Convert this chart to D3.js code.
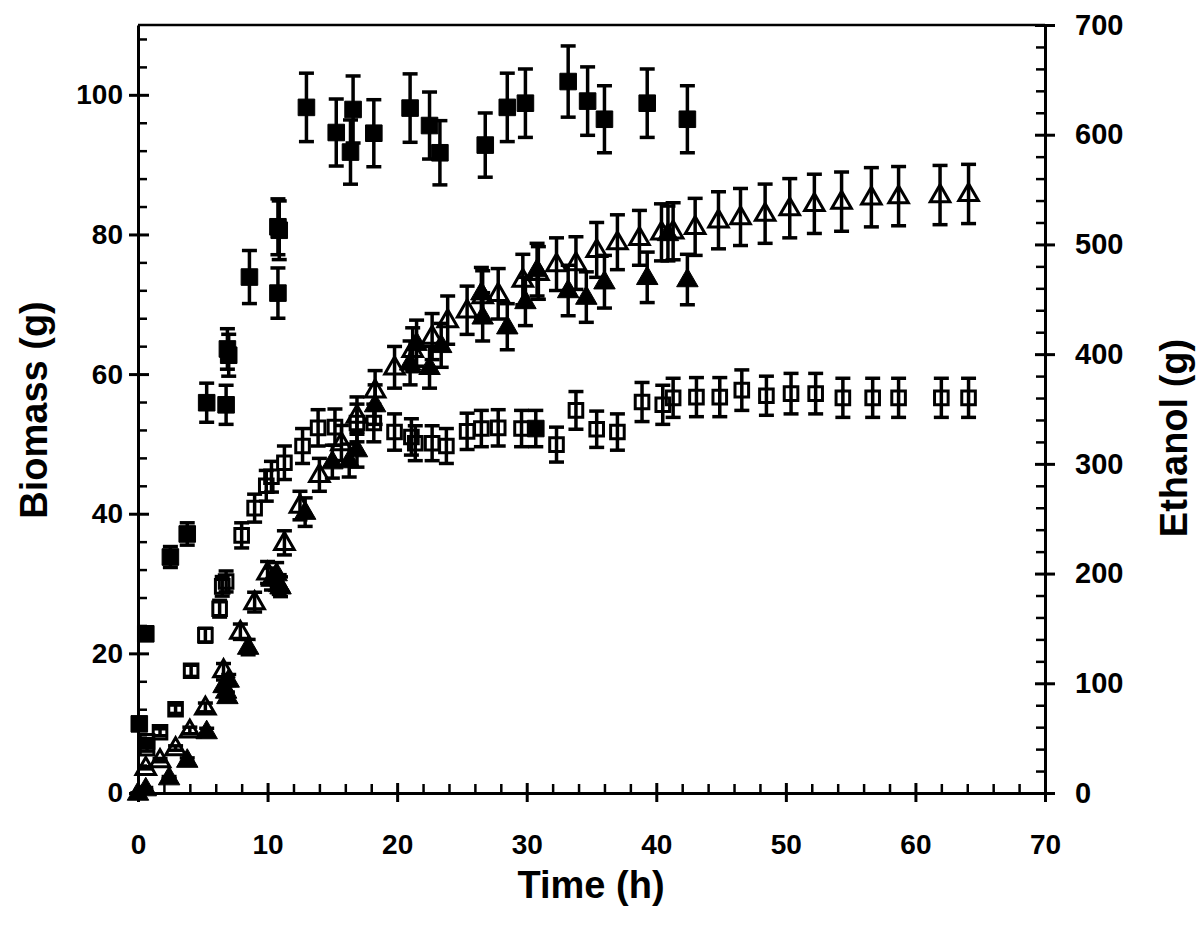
<!DOCTYPE html>
<html>
<head>
<meta charset="utf-8">
<script src="https://cdn.jsdelivr.net/npm/d3@7"></script>
<style>
  html, body { margin: 0; padding: 0; background: #fff; }
  svg { display: block; }
  text { font-family: "Liberation Sans", Arial, sans-serif; font-weight: bold; fill: #000; }
</style>
</head>
<body>
<svg id="chart" width="1200" height="926"></svg>
<script>
// ---------------- data ----------------
const xTicks = [0, 10, 20, 30, 40, 50, 60, 70];
const leftTicks = [0, 20, 40, 60, 80, 100];
const rightTicks = [0, 100, 200, 300, 400, 500, 600, 700];
const xLabel = "Time (h)";
const leftLabel = "Biomass (g)";
const rightLabel = "Ethanol (g)";

// filled squares — biomass (left axis)
const fsTime = [0.1, 0.6, 2.5, 3.8, 5.3, 6.8, 6.9, 7.0, 8.6, 10.8, 10.9, 10.8, 13.0, 15.3, 16.4, 16.6, 18.2, 21.0, 22.5, 23.3, 26.8, 28.5, 29.9, 30.7, 33.2, 34.7, 36.0, 39.3, 42.4];
const fsVal  = [9.9, 22.8, 33.8, 37.1, 55.9, 55.6, 63.6, 62.7, 73.9, 81.1, 80.6, 71.6, 98.2, 94.6, 91.8, 97.9, 94.5, 98.1, 95.6, 91.7, 92.8, 98.2, 98.8, 52.2, 101.9, 99.1, 96.5, 98.8, 96.5];
const fsErr  = [0.6, 0.8, 1.5, 1.6, 2.8, 2.8, 2.9, 3.0, 3.8, 4.0, 4.2, 3.6, 4.9, 4.8, 4.6, 4.8, 4.8, 4.9, 4.8, 4.6, 4.6, 4.9, 4.9, 2.6, 5.1, 4.9, 4.8, 4.9, 4.8];

// open squares — biomass (left axis)
const osTime = [0.7, 0.7, 1.7, 2.9, 4.1, 5.2, 6.3, 6.5, 6.8, 8.0, 9.0, 9.9, 10.3, 11.3, 12.7, 13.9, 15.2, 16.9, 18.2, 19.8, 21.1, 21.4, 22.7, 23.8, 25.4, 26.5, 27.8, 29.6, 32.3, 33.8, 35.4, 37.0, 38.9, 40.5, 41.3, 43.1, 44.9, 46.6, 48.5, 50.4, 52.3, 54.4, 56.7, 58.7, 62.0, 64.1];
const osVal  = [6.4, 7.4, 8.7, 12.0, 17.5, 22.6, 26.4, 29.6, 30.3, 36.9, 40.8, 44.0, 45.3, 47.3, 49.7, 52.3, 52.4, 53.0, 53.0, 51.7, 51.0, 50.1, 50.1, 49.7, 51.8, 52.2, 52.3, 52.2, 49.9, 54.8, 52.1, 51.7, 56.0, 55.6, 56.6, 56.7, 56.7, 57.7, 56.9, 57.2, 57.2, 56.6, 56.6, 56.6, 56.6, 56.6];
const osErr  = [0.4, 0.4, 0.5, 0.6, 0.8, 1.0, 1.2, 1.4, 1.5, 1.8, 2.0, 2.2, 2.2, 2.4, 2.5, 2.6, 2.6, 2.7, 2.7, 2.6, 2.6, 2.5, 2.5, 2.5, 2.6, 2.6, 2.6, 2.6, 2.5, 2.7, 2.6, 2.6, 2.8, 2.8, 2.8, 2.8, 2.8, 2.9, 2.8, 2.9, 2.9, 2.8, 2.8, 2.8, 2.8, 2.8];

// open triangles — ethanol (right axis)
const otTime = [0.6, 1.7, 2.9, 4.0, 5.2, 6.6, 7.9, 9.0, 10.0, 11.3, 12.5, 14.0, 15.7, 16.9, 18.3, 19.8, 21.2, 22.7, 23.9, 25.4, 26.6, 27.8, 29.7, 30.9, 32.3, 33.8, 35.4, 37.0, 38.7, 40.4, 41.3, 43.0, 44.8, 46.5, 48.4, 50.3, 52.2, 54.3, 56.6, 58.7, 61.9, 64.1];
const otVal  = [23, 30, 41, 57, 78, 112, 147, 174, 201, 228, 262, 290, 319, 344, 367, 388, 404, 416, 431, 440, 453, 455, 468, 474, 482, 483, 495, 502, 506, 511, 512, 516, 522, 525, 528, 533, 537, 539, 543, 544, 545, 546];
const otErr  = [1, 1.5, 2, 3, 4, 6, 7, 9, 10, 11, 13, 15, 16, 17, 18, 19, 20, 21, 22, 22, 23, 23, 23, 24, 24, 24, 25, 25, 25, 26, 26, 26, 26, 26, 27, 27, 27, 27, 27, 27, 27, 27];

// filled triangles — ethanol (right axis)
const ftTime = [0.0, 0.6, 2.4, 3.8, 5.3, 6.6, 6.8, 6.9, 7.0, 8.5, 10.3, 10.7, 10.9, 11.0, 12.9, 15.0, 16.3, 16.9, 18.3, 21.0, 21.5, 22.5, 23.4, 26.5, 26.6, 28.5, 29.9, 30.8, 33.2, 34.6, 36.0, 39.3, 40.9, 42.4];
const ftVal  = [0, 4, 14, 30, 56, 98, 93, 88, 103, 133, 195, 200, 190, 188, 256, 302, 303, 313, 354, 392, 410, 388, 408, 456, 434, 425, 448, 477, 458, 452, 466, 470, 510, 468];
const ftErr  = [0, 1, 1, 2, 3, 5, 5, 4, 5, 7, 10, 10, 9, 9, 13, 15, 15, 16, 18, 20, 21, 19, 20, 23, 22, 21, 22, 24, 23, 23, 24, 23, 25, 23];

// ---------------- chart ----------------
const svg = d3.select("#chart");
const W = 1200, H = 926;
svg.append("rect").attr("width", W).attr("height", H).attr("fill", "#fff");

const x = d3.scaleLinear().domain([0, 70]).range([138, 1045]);
const yL = d3.scaleLinear().domain([0, 110]).range([793, 25]);
const yR = d3.scaleLinear().domain([0, 700]).range([793, 25]);

const AX_W = 3;
const FONT = 28;

// top frame line
svg.append("line").attr("x1", x(0)).attr("x2", x(70)).attr("y1", yL(110)).attr("y2", yL(110))
  .attr("stroke", "#000").attr("stroke-width", 2.5);

// ---- bottom axis ----
const gx = svg.append("g").attr("transform", `translate(0,${yL(0)})`);
gx.call(d3.axisBottom(x).tickValues(xTicks).tickSize(0).tickPadding(41).tickFormat(d3.format("d")));
gx.select(".domain").attr("stroke-width", AX_W);
gx.selectAll(".tick line").attr("y1", -10).attr("y2", 9).attr("stroke-width", AX_W);
gx.selectAll(".tick text").style("font-size", FONT + "px");
const gxm = svg.append("g").attr("transform", `translate(0,${yL(0)})`);
gxm.call(d3.axisBottom(x).tickValues(d3.range(0, 71, 2).filter(v => v % 10 !== 0)).tickSize(-9).tickFormat(""));
gxm.select(".domain").remove();
gxm.selectAll(".tick line").attr("stroke-width", 2.5);

// ---- left axis ----
const gl = svg.append("g").attr("transform", `translate(${x(0)},0)`);
gl.call(d3.axisLeft(yL).tickValues(leftTicks).tickSize(0).tickPadding(15));
gl.select(".domain").attr("stroke-width", AX_W);
gl.selectAll(".tick line").attr("x1", -9).attr("x2", 11).attr("stroke-width", AX_W);
gl.selectAll(".tick text").style("font-size", FONT + "px");
const glm = svg.append("g").attr("transform", `translate(${x(0)},0)`);
glm.call(d3.axisLeft(yL).tickValues(d3.range(0, 111, 4).filter(v => v % 20 !== 0)).tickSize(-9).tickFormat(""));
glm.select(".domain").remove();
glm.selectAll(".tick line").attr("stroke-width", 2.5);

// ---- right axis ----
const gr = svg.append("g").attr("transform", `translate(${x(70)},0)`);
gr.call(d3.axisRight(yR).tickValues(rightTicks).tickSize(0).tickPadding(30));
gr.select(".domain").attr("stroke-width", AX_W);
gr.selectAll(".tick line").attr("x1", -10).attr("x2", 10).attr("stroke-width", AX_W);
gr.selectAll(".tick text").style("font-size", "29px");
const grm = svg.append("g").attr("transform", `translate(${x(70)},0)`);
grm.call(d3.axisRight(yR).tickValues(d3.range(0, 701, 20).filter(v => v % 100 !== 0)).tickSize(-9).tickFormat(""));
grm.select(".domain").remove();
grm.selectAll(".tick line").attr("stroke-width", 2.5);

svg.selectAll(".domain, .tick line").attr("stroke", "#000");
svg.selectAll(".tick text").attr("fill", "#000").style("font-weight", "bold")
  .style("font-family", '"Liberation Sans", Arial, sans-serif');

// ---- axis titles ----
svg.append("text").attr("x", 591).attr("y", 898).attr("text-anchor", "middle")
  .style("font-size", "38px").text(xLabel);
svg.append("text").attr("transform", "translate(47,410) rotate(-90)").attr("text-anchor", "middle")
  .style("font-size", "38px").text(leftLabel);
svg.append("text").attr("transform", "translate(1187,438) rotate(-90)").attr("text-anchor", "middle")
  .style("font-size", "38px").text(rightLabel);

// ---- series ----
function series(times, vals, errs, yScale) {
  return times.map((t, i) => ({ t, v: vals[i], e: errs[i], y: yScale }));
}
const S_fs = series(fsTime, fsVal, fsErr, yL);
const S_os = series(osTime, osVal, osErr, yL);
const S_ot = series(otTime, otVal, otErr, yR);
const S_ft = series(ftTime, ftVal, ftErr, yR);

const CAP = 7.5, EB_W = 3.5;
function errorBars(data) {
  const g = svg.append("g").attr("stroke", "#000").attr("stroke-width", EB_W).attr("fill", "none");
  const sel = g.selectAll("g").data(data).join("g");
  sel.append("line").attr("x1", d => x(d.t)).attr("x2", d => x(d.t))
    .attr("y1", d => d.y(d.v - d.e)).attr("y2", d => d.y(d.v + d.e));
  sel.append("line").attr("x1", d => x(d.t) - CAP).attr("x2", d => x(d.t) + CAP)
    .attr("y1", d => d.y(d.v + d.e)).attr("y2", d => d.y(d.v + d.e));
  sel.append("line").attr("x1", d => x(d.t) - CAP).attr("x2", d => x(d.t) + CAP)
    .attr("y1", d => d.y(d.v - d.e)).attr("y2", d => d.y(d.v - d.e));
}

const sqSym = d3.symbol().type(d3.symbolSquare);
const triSym = d3.symbol().type(d3.symbolTriangle);

function markers(data, sym, size, filled, dy) {
  svg.append("g").selectAll("path").data(data).join("path")
    .attr("d", sym.size(size)())
    .attr("transform", d => `translate(${x(d.t)},${d.y(d.v) + (dy || 0)})`)
    .attr("fill", filled ? "#000" : "none")
    .attr("stroke", "#000")
    .attr("stroke-width", filled ? 1 : 3);
}

errorBars(S_os);
markers(S_os, sqSym, 185, false);
errorBars(S_ot);
markers(S_ot, triSym, 165, false, 1);
errorBars(S_ft);
markers(S_ft, triSym, 200, true, 1);
errorBars(S_fs);
markers(S_fs, sqSym, 275, true);
</script>
</body>
</html>
